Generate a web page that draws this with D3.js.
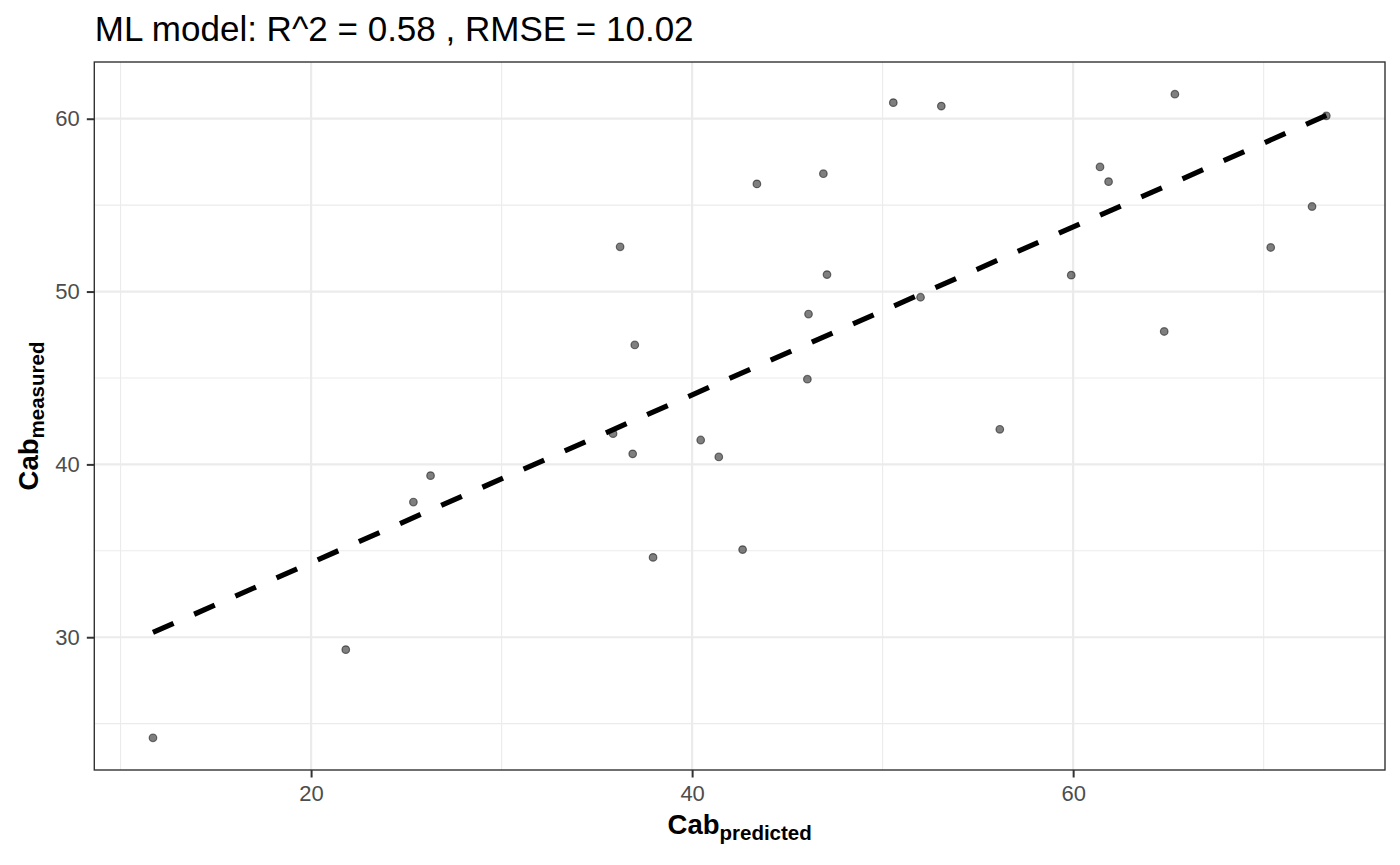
<!DOCTYPE html>
<html>
<head>
<meta charset="utf-8">
<script src="https://cdn.jsdelivr.net/npm/d3@7"></script>
<style>
  body { margin: 0; background: #fff; }
  text { font-family: "Liberation Sans", Arial, sans-serif; }
</style>
</head>
<body>
<script>
// Cab predicted (x) vs measured (y)
const predicted = [11.70, 21.82, 25.37, 26.27, 35.85, 36.22, 36.88, 36.99, 37.95,
  40.45, 41.40, 42.65, 43.40, 46.05, 46.11, 46.89, 47.08, 50.56, 51.99, 53.08,
  56.15, 59.90, 61.41, 61.86, 64.78, 65.34, 70.37, 72.54, 73.29]
const measured = [24.18, 29.28, 37.82, 39.35, 41.78, 52.59, 40.61, 46.91, 34.62,
  41.41, 40.43, 35.07, 56.23, 44.93, 48.70, 56.82, 50.98, 60.93, 49.67, 60.73,
  42.03, 50.95, 57.21, 56.36, 47.69, 61.42, 52.55, 54.92, 60.17]

// dashed fit line end points
const fitX = [11.70, 73.29]
const fitY = [30.28, 60.19]

const xTicks = [20, 40, 60]
const xMinor = [10, 30, 50, 70]
const yTicks = [30, 40, 50, 60]
const yMinor = [25, 35, 45, 55]

const titleText = "ML model: R^2 = 0.58 , RMSE = 10.02"

const width = 1400, height = 865
const margin = {top: 62, right: 15, bottom: 95, left: 94.3}
const pw = width - margin.left - margin.right
const ph = height - margin.top - margin.bottom

function expand(ext) {
  const d = (ext[1] - ext[0]) * 0.05
  return [ext[0] - d, ext[1] + d]
}

const x = d3.scaleLinear().domain(expand(d3.extent(predicted))).range([0, pw])
const y = d3.scaleLinear().domain(expand(d3.extent(measured))).range([ph, 0])

const svg = d3.select("body").append("svg")
  .attr("width", width)
  .attr("height", height)

const g = svg.append("g")
  .attr("transform", `translate(${margin.left},${margin.top})`)

// minor grid
g.selectAll(".vminor").data(xMinor).enter().append("line")
  .attr("x1", d => x(d)).attr("x2", d => x(d))
  .attr("y1", 0).attr("y2", ph)
  .attr("stroke", "#EBEBEB").attr("stroke-width", 1.1)
g.selectAll(".hminor").data(yMinor).enter().append("line")
  .attr("y1", d => y(d)).attr("y2", d => y(d))
  .attr("x1", 0).attr("x2", pw)
  .attr("stroke", "#EBEBEB").attr("stroke-width", 1.1)

// major grid
g.selectAll(".vmajor").data(xTicks).enter().append("line")
  .attr("x1", d => x(d)).attr("x2", d => x(d))
  .attr("y1", 0).attr("y2", ph)
  .attr("stroke", "#EBEBEB").attr("stroke-width", 2.2)
g.selectAll(".hmajor").data(yTicks).enter().append("line")
  .attr("y1", d => y(d)).attr("y2", d => y(d))
  .attr("x1", 0).attr("x2", pw)
  .attr("stroke", "#EBEBEB").attr("stroke-width", 2.2)

// points
g.selectAll("circle").data(predicted).enter().append("circle")
  .attr("cx", d => x(d))
  .attr("cy", (d, i) => y(measured[i]))
  .attr("r", 3.8)
  .attr("fill", "rgba(0,0,0,0.5)")
  .attr("stroke", "rgba(0,0,0,0.5)")
  .attr("stroke-width", 1.2)

// fit line
const line = d3.line().x(d => x(d[0])).y(d => y(d[1]))
g.append("path")
  .datum(fitX.map((v, i) => [v, fitY[i]]))
  .attr("d", line)
  .attr("fill", "none")
  .attr("stroke", "#000")
  .attr("stroke-width", 5.2)
  .attr("stroke-dasharray", "22.5,22.5")

// panel border
g.append("rect")
  .attr("width", pw).attr("height", ph)
  .attr("fill", "none")
  .attr("stroke", "#333333").attr("stroke-width", 1.4)

// axes
const xAxis = g.append("g")
  .attr("transform", `translate(0,${ph})`)
  .call(d3.axisBottom(x).tickValues(xTicks).tickSize(7.5).tickPadding(8))
const yAxis = g.append("g")
  .call(d3.axisLeft(y).tickValues(yTicks).tickSize(7.5).tickPadding(7))

for (const ax of [xAxis, yAxis]) {
  ax.select(".domain").remove()
  ax.selectAll(".tick line").attr("stroke", "#333333").attr("stroke-width", 2)
  ax.selectAll(".tick text")
    .attr("fill", "#4D4D4D")
    .style("font-size", "22px")
    .style("font-family", "'Liberation Sans', Arial, sans-serif")
}

// title
svg.append("text")
  .attr("x", margin.left + 0.5)
  .attr("y", 41)
  .style("font-size", "35px")
  .attr("fill", "#000")
  .text(titleText)

// x axis title
const xt = svg.append("text")
  .attr("x", margin.left + pw / 2)
  .attr("y", 834)
  .attr("text-anchor", "middle")
  .style("font-weight", "bold")
xt.append("tspan").style("font-size", "27.5px").text("Cab")
xt.append("tspan").style("font-size", "20.5px").attr("dy", 6).text("predicted")

// y axis title
const yt = svg.append("text")
  .attr("transform", `translate(38,${margin.top + ph / 2}) rotate(-90)`)
  .attr("text-anchor", "middle")
  .style("font-weight", "bold")
yt.append("tspan").style("font-size", "27.5px").text("Cab")
yt.append("tspan").style("font-size", "20.5px").attr("dy", 6).text("measured")
</script>
</body>
</html>
